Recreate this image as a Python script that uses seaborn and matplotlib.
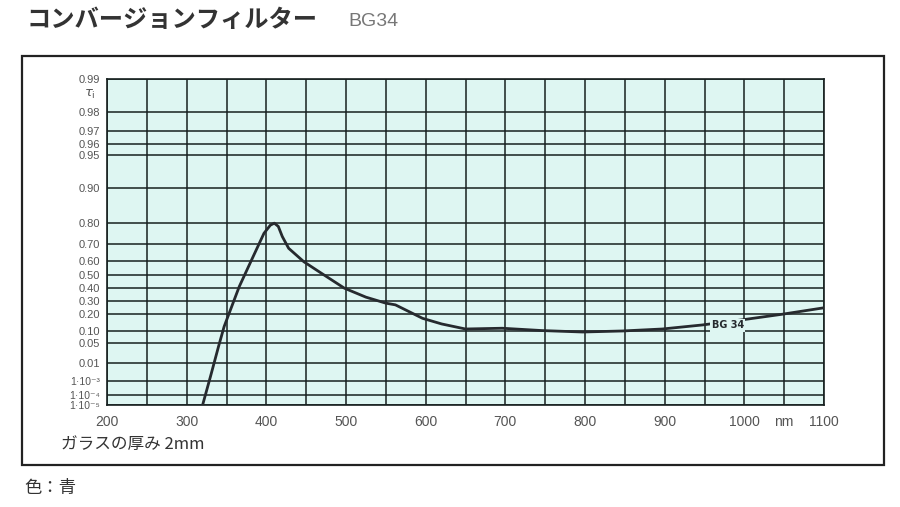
import numpy as np
import pandas as pd
import matplotlib
matplotlib.use("Agg")
import matplotlib.pyplot as plt
from matplotlib.patches import Rectangle
import seaborn as sns

sns.set_theme(style="white")
plt.rcParams["font.family"] = ["Noto Sans CJK JP", "DejaVu Sans"]

LATIN = ["Liberation Sans", "DejaVu Sans"]


# --------------------------------------------------
# Data
# --------------------------------------------------

wavelength = [318, 320, 330, 340, 347, 366, 380, 397, 405, 410, 415, 420,
              428, 447, 470, 498, 525, 550, 562, 596, 620, 650, 696, 746,
              797, 847, 897, 947, 997, 1047, 1100]

transmittance = [2e-6, 1e-5, 2.1e-3, 0.039, 0.121, 0.411, 0.59, 0.755, 0.79,
                 0.798, 0.785, 0.74, 0.678, 0.595, 0.51, 0.398, 0.327, 0.28,
                 0.267, 0.171, 0.136, 0.108, 0.112, 0.100, 0.093, 0.098,
                 0.108, 0.130, 0.161, 0.198, 0.245]

y_ticks = [1e-5, 1e-4, 1e-3, 0.01, 0.05, 0.10, 0.20, 0.30, 0.40, 0.50,
           0.60, 0.70, 0.80, 0.90, 0.95, 0.96, 0.97, 0.98, 0.99]
y_labels = ["1·10⁻⁵", "1·10⁻⁴", "1·10⁻³",
            "0.01", "0.05", "0.10", "0.20", "0.30", "0.40", "0.50",
            "0.60", "0.70", "0.80", "0.90", "0.95", "0.96", "0.97", "0.98",
            "0.99"]

x_ticks = list(range(200, 1101, 50))
x_labels = ["200", "", "300", "", "400", "", "500", "", "600", "", "700", "",
            "800", "", "900", "", "1000", "nm", "1100"]

title = "コンバージョンフィルター"
glass = "BG34"
curve_label = "BG 34"
thickness = "ガラスの厚み 2mm"
colour_note = "色：青"


# --------------------------------------------------
# Diabatie-like scale: -log10(log10(1/tau))
# --------------------------------------------------

def forward(t):
    t = np.clip(np.asarray(t, dtype=float), 1e-12, 1 - 1e-12)
    return -np.log10(np.log10(1.0 / t))


def inverse(v):
    v = np.asarray(v, dtype=float)
    return 10.0 ** (-(10.0 ** (-v)))


df = pd.DataFrame({"nm": wavelength, "tau": transmittance})

fig = plt.figure(figsize=(9, 5.07), dpi=100)
ax = fig.add_axes([0.1189, 0.2012, 0.7967, 0.6424])
ax.set_facecolor("#def6f2")

sns.lineplot(data=df, x="nm", y="tau", ax=ax, sort=False,
             color="#262a2e", linewidth=2.0, zorder=3)

ax.set_yscale("function", functions=(forward, inverse))
ax.set_ylim(1e-5, 0.99)
ax.set_xlim(200, 1100)

ax.set_yticks(y_ticks)
ax.set_yticklabels(y_labels)
ax.set_xticks(x_ticks)
ax.set_xticklabels(x_labels)
ax.minorticks_off()

ax.tick_params(axis="both", length=0, labelcolor="#555555")
ax.tick_params(axis="y", pad=5, labelsize=8)
ax.tick_params(axis="x", pad=7, labelsize=10)
for lab in ax.get_yticklabels() + ax.get_xticklabels():
    lab.set_fontfamily(LATIN)
for lab in ax.get_yticklabels()[:3]:
    lab.set_fontsize(7.5)

ax.grid(True, color="#17201f", linewidth=1.1)
ax.set_axisbelow(True)
for s in ax.spines.values():
    s.set_color("#17201f")
    s.set_linewidth(1.2)

ax.set_xlabel("")
ax.set_ylabel("")

# tau_i label under 0.99
fig.text(0.093, 1 - 94 / 507, r"$\tau_{\mathrm{i}}$", fontsize=9.5,
         color="#555555", ha="left", va="center")

# curve label
ax.text(979, 0.128, curve_label, fontsize=7, weight="bold",
        color="#262a2e", ha="center", va="center", zorder=4,
        family=["DejaVu Sans"],
        bbox=dict(boxstyle="square,pad=0.15", facecolor="#def6f2",
                  edgecolor="none"))

# outer frame
fig.patches.append(Rectangle((0.0241, 0.0828), 0.958, 0.807,
                             transform=fig.transFigure, fill=False,
                             edgecolor="#222222", linewidth=1.6))

# titles and notes
fig.text(0.03, 1 - 20 / 507, title, fontsize=17.5, fontweight="bold",
         color="#333333", ha="left", va="center")
fig.text(0.387, 1 - 21 / 507, glass, fontsize=14, color="#777777",
         ha="left", va="center", family=LATIN)
fig.text(0.068, 1 - 445 / 507, thickness, fontsize=12, color="#333333",
         ha="left", va="center")
fig.text(0.027, 1 - 488 / 507, colour_note, fontsize=12.5, color="#333333",
         ha="left", va="center")

fig.savefig("out.png", dpi=100)
plt.close(fig)
